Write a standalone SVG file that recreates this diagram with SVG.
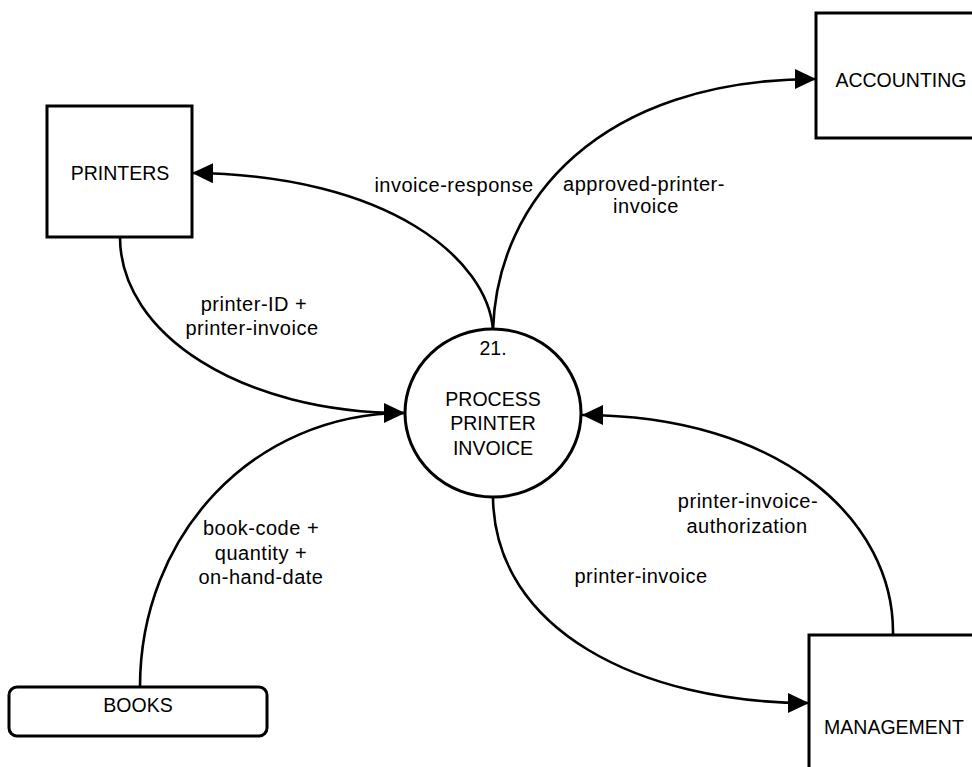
<svg xmlns="http://www.w3.org/2000/svg" width="972" height="767" viewBox="0 0 972 767">
<style>
  .box{fill:#fff;stroke:#000;stroke-width:3}
  .flow{fill:none;stroke:#000;stroke-width:2.6}
  .node{font-family:"Liberation Sans",Arial,sans-serif;font-size:19.5px;fill:#000;text-anchor:middle}
  .lbl{font-family:"Liberation Sans",Arial,sans-serif;font-size:20px;letter-spacing:0.5px;fill:#000;text-anchor:middle}
</style>
<defs>
  <marker id="arr" markerUnits="userSpaceOnUse" markerWidth="22" markerHeight="22" refX="21" refY="10" orient="auto" viewBox="0 0 22 20">
    <path d="M0,0 L21,10 L0,20 Z" fill="#000"/>
  </marker>
</defs>
<rect width="972" height="767" fill="#fff"/>
<g id="connectors">
  <path class="flow" d="M493,330 C488,260 390,175 192,173" marker-end="url(#arr)"/>
  <path class="flow" d="M493,330 C497,200 600,79 816,79" marker-end="url(#arr)"/>
  <path class="flow" d="M120,237 C120,334 241,413 405,413" marker-end="url(#arr)"/>
  <path class="flow" d="M140,687 C140,536 252,413 405,413"/>
  <path class="flow" d="M493,498 C495,630 640,703 809,703" marker-end="url(#arr)"/>
  <path class="flow" d="M893,635 C895,520 780,415 582,415" marker-end="url(#arr)"/>
</g>
<g id="labels">
  <text class="lbl" x="454" y="192">invoice-response</text>
  <text class="lbl" x="644" y="191">approved-printer-</text>
  <text class="lbl" x="646" y="213">invoice</text>
  <text class="lbl" x="254" y="311">printer-ID +</text>
  <text class="lbl" x="252" y="335">printer-invoice</text>
  <text class="lbl" x="261" y="535">book-code +</text>
  <text class="lbl" x="261" y="560">quantity +</text>
  <text class="lbl" x="261" y="584">on-hand-date</text>
  <text class="lbl" x="748" y="508">printer-invoice-</text>
  <text class="lbl" x="747" y="533">authorization</text>
  <text class="lbl" x="641" y="583">printer-invoice</text>
</g>
<g id="printers">
  <rect class="box" x="47" y="106" width="145" height="131"/>
  <text class="node" x="120" y="180">PRINTERS</text>
</g>
<g id="accounting">
  <rect class="box" x="816" y="13" width="170" height="125"/>
  <text class="node" x="901" y="87">ACCOUNTING</text>
</g>
<g id="management">
  <rect class="box" x="809" y="635" width="175" height="150"/>
  <text class="node" x="894" y="734">MANAGEMENT</text>
</g>
<g id="books">
  <rect class="box" x="9" y="687" width="258" height="49" rx="8" ry="8"/>
  <text class="node" x="138" y="712">BOOKS</text>
</g>
<g id="process">
  <ellipse class="box" cx="493" cy="413" rx="88" ry="84"/>
  <text class="node" x="493" y="355">21.</text>
  <text class="node" x="493" y="406">PROCESS</text>
  <text class="node" x="493" y="430">PRINTER</text>
  <text class="node" x="493" y="455">INVOICE</text>
</g>
</svg>
